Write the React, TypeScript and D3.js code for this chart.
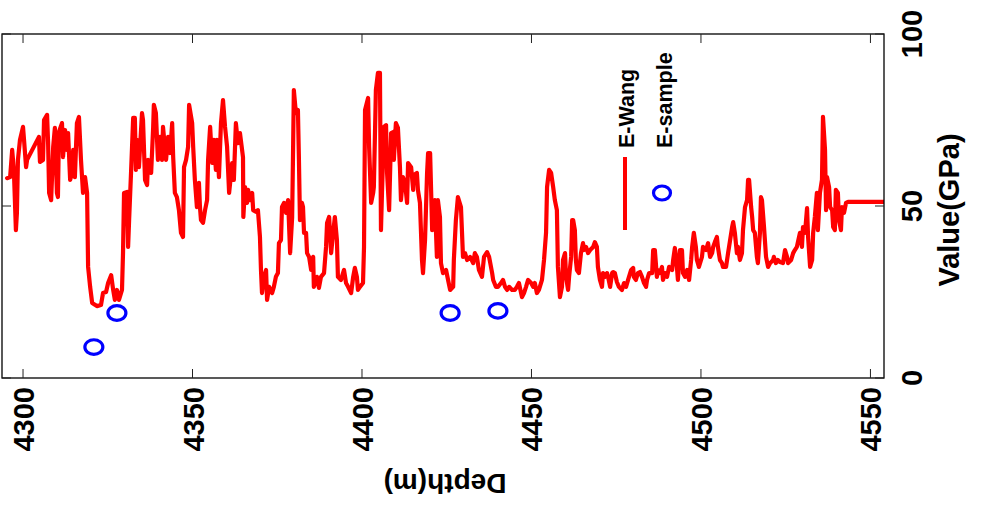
import React from "react";
import * as d3 from "d3";

// E-Wang log: depth (m) and value (GPa)
const depth = [
  4295.3, 4296.2, 4296.8, 4297.3, 4297.9, 4298.2, 4298.5, 4299.1, 4300.0, 4300.3, 4300.9, 4301.2,
  4304.7, 4305.0, 4305.9, 4306.2, 4307.1, 4307.4, 4307.7, 4308.3, 4308.9, 4309.4, 4310.0, 4310.3,
  4310.6, 4311.5, 4311.8, 4312.4, 4313.0, 4313.3, 4313.9, 4314.5, 4314.8, 4315.3, 4315.9, 4316.5,
  4317.1, 4317.7, 4318.3, 4318.9, 4319.2, 4319.8, 4320.4, 4321.8, 4323.0, 4323.6, 4324.5, 4325.1,
  4326.0, 4326.6, 4327.1, 4327.7, 4328.3, 4329.2, 4329.5, 4329.8, 4330.7, 4331.0, 4331.3, 4331.9,
  4332.5, 4333.0, 4333.3, 4333.6, 4334.2, 4335.1, 4335.4, 4336.0, 4336.6, 4336.9, 4337.8, 4338.4,
  4338.6, 4339.2, 4339.8, 4340.4, 4341.0, 4341.3, 4342.2, 4342.8, 4343.4, 4344.0, 4344.3, 4344.8,
  4345.4, 4346.0, 4346.6, 4347.2, 4347.5, 4348.1, 4348.7, 4349.0, 4349.9, 4350.2, 4350.7, 4351.3,
  4351.9, 4352.2, 4352.5, 4353.1, 4353.7, 4354.3, 4354.6, 4355.2, 4355.8, 4356.3, 4356.9, 4357.2,
  4357.8, 4358.4, 4359.0, 4359.6, 4360.2, 4360.8, 4361.7, 4362.2, 4362.8, 4363.4, 4364.0, 4364.9,
  4365.0, 4365.5, 4366.1, 4366.4, 4367.0, 4367.6, 4367.9, 4368.7, 4369.3, 4369.9, 4370.2, 4370.5,
  4371.1, 4371.7, 4372.0, 4372.6, 4373.5, 4374.0, 4374.6, 4375.2, 4375.5, 4376.1, 4376.4, 4377.0,
  4377.6, 4378.2, 4378.8, 4379.4, 4379.7, 4379.9, 4380.5, 4381.1, 4381.4, 4381.7, 4382.3, 4382.6,
  4382.9, 4383.5, 4383.8, 4384.4, 4385.0, 4385.6, 4385.8, 4386.7, 4387.3, 4387.9, 4388.8, 4389.4,
  4389.7, 4390.3, 4390.9, 4391.5, 4392.0, 4392.6, 4392.9, 4393.8, 4394.4, 4394.7, 4395.3, 4395.9,
  4396.8, 4397.4, 4397.9, 4398.5, 4398.8, 4399.4, 4400.3, 4400.6, 4400.9, 4401.8, 4402.1, 4402.7,
  4403.3, 4403.5, 4404.1, 4404.7, 4405.3, 4405.6, 4405.9, 4406.5, 4407.1, 4407.4, 4408.0, 4408.6,
  4409.2, 4409.4, 4410.0, 4410.6, 4411.2, 4411.5, 4412.1, 4412.7, 4413.3, 4413.6, 4414.5, 4415.1,
  4415.3, 4416.2, 4416.5, 4417.1, 4417.7, 4418.0, 4418.6, 4419.2, 4419.5, 4420.1, 4420.7, 4421.0,
  4421.5, 4422.1, 4422.4, 4423.0, 4423.3, 4423.9, 4424.8, 4425.4, 4426.0, 4426.9, 4427.1, 4427.7,
  4428.3, 4429.2, 4429.8, 4430.4, 4431.0, 4431.9, 4432.8, 4433.3, 4433.9, 4434.5, 4435.4, 4436.0,
  4436.9, 4437.5, 4438.4, 4438.7, 4439.5, 4440.1, 4441.0, 4441.6, 4442.2, 4442.8, 4443.4, 4444.3,
  4445.1, 4445.7, 4446.3, 4447.2, 4447.8, 4448.4, 4449.0, 4449.9, 4450.5, 4451.0, 4451.6, 4452.2,
  4453.1, 4453.7, 4454.3, 4454.6, 4455.2, 4455.8, 4456.4, 4456.9, 4457.5, 4457.8, 4458.4, 4459.0,
  4459.3, 4459.9, 4460.2, 4460.8, 4461.1, 4461.7, 4462.0, 4462.3, 4462.8, 4463.1, 4463.4, 4464.0,
  4464.6, 4465.2, 4465.5, 4466.1, 4466.7, 4467.3, 4468.2, 4468.7, 4469.3, 4469.6, 4470.2, 4470.8,
  4471.1, 4471.7, 4472.3, 4472.6, 4473.2, 4473.8, 4474.1, 4474.6, 4475.2, 4475.8, 4476.7, 4477.3,
  4477.9, 4478.5, 4479.4, 4480.0, 4480.2, 4480.8, 4481.4, 4482.0, 4482.6, 4483.2, 4483.8, 4484.1,
  4484.7, 4485.6, 4485.9, 4486.4, 4487.0, 4487.3, 4487.9, 4488.5, 4488.8, 4489.4, 4490.0, 4490.6,
  4491.5, 4491.8, 4492.3, 4492.9, 4493.2, 4493.8, 4494.4, 4494.7, 4495.3, 4495.9, 4496.5, 4497.1,
  4497.4, 4497.9, 4498.5, 4498.8, 4499.4, 4500.3, 4500.6, 4501.5, 4502.1, 4502.7, 4503.3, 4503.6,
  4504.1, 4504.7, 4505.0, 4505.6, 4506.2, 4506.5, 4507.4, 4508.0, 4508.6, 4509.2, 4509.5, 4510.0,
  4510.6, 4510.9, 4511.5, 4512.1, 4512.4, 4513.0, 4513.6, 4513.9, 4514.2, 4514.8, 4515.1, 4515.4,
  4515.9, 4516.5, 4516.8, 4517.4, 4517.7, 4518.0, 4518.6, 4519.2, 4519.8, 4520.4, 4521.3, 4521.5,
  4522.1, 4522.7, 4523.3, 4524.2, 4524.8, 4525.4, 4525.7, 4526.6, 4527.2, 4527.7, 4528.3, 4528.6,
  4529.2, 4529.8, 4530.1, 4530.7, 4531.3, 4531.6, 4532.2, 4532.8, 4533.1, 4533.6, 4534.2, 4534.5,
  4535.1, 4535.7, 4536.0, 4536.6, 4536.9, 4537.2, 4537.8, 4538.1, 4538.7, 4539.0, 4539.5, 4539.8,
  4540.4, 4540.7, 4541.3, 4541.6, 4542.2, 4542.8, 4543.4, 4554.0,
];
const eWang = [
  58.1, 58.4, 66.3, 60.5, 43.0, 48.0, 63.4, 69.2, 73.0, 69.2, 61.3, 63.4,
  70.1, 62.8, 63.4, 75.0, 76.5, 68.3, 53.8, 51.7, 67.2, 72.7, 53.8, 52.6,
  71.5, 74.1, 64.2, 72.1, 66.3, 71.2, 57.6, 59.6, 66.3, 58.4, 74.1, 75.9,
  63.4, 53.8, 58.4, 53.8, 32.3, 26.5, 21.8, 20.9, 21.2, 24.7, 25.0, 27.6,
  29.9, 25.6, 22.7, 25.6, 22.7, 25.6, 36.3, 53.8, 54.1, 38.1, 45.9, 60.5,
  75.6, 75.6, 60.5, 69.2, 61.3, 77.0, 75.0, 57.6, 56.1, 63.4, 59.6, 73.0,
  79.4, 77.0, 63.4, 70.1, 63.4, 73.0, 63.4, 70.1, 65.4, 74.1, 64.2, 53.8,
  52.6, 48.8, 42.2, 41.0, 61.3, 63.4, 67.2, 79.4, 74.1, 67.2, 57.6, 49.7,
  56.7, 49.7, 45.9, 45.1, 48.8, 51.7, 63.4, 73.0, 62.5, 69.2, 60.5, 69.2,
  58.4, 74.1, 80.8, 73.0, 67.2, 53.8, 62.5, 57.6, 74.1, 68.3, 71.2, 64.2,
  46.8, 55.5, 50.9, 54.7, 51.7, 53.8, 48.8, 48.3, 48.8, 41.0, 31.4, 24.7,
  29.4, 31.4, 22.7, 26.5, 24.7, 26.5, 29.4, 30.5, 39.2, 40.1, 49.7, 50.9,
  48.0, 51.7, 36.3, 46.8, 68.3, 83.7, 77.0, 77.9, 63.4, 45.9, 50.9, 49.7,
  42.2, 42.2, 36.3, 35.2, 31.4, 35.2, 26.5, 29.4, 26.2, 29.4, 30.5, 38.1,
  45.1, 46.8, 36.3, 42.2, 46.8, 40.1, 29.4, 28.5, 30.5, 31.4, 27.6, 26.5,
  24.7, 29.4, 32.0, 29.4, 25.6, 26.5, 27.6, 38.1, 77.9, 81.4, 67.2, 50.9,
  53.8, 55.5, 83.7, 88.7, 88.7, 43.0, 53.8, 73.0, 73.5, 59.6, 48.8, 71.2,
  71.5, 63.4, 74.1, 72.7, 61.3, 51.7, 58.4, 56.7, 50.9, 62.5, 61.3, 54.7,
  59.0, 59.6, 54.7, 50.9, 34.3, 30.5, 40.1, 59.6, 65.4, 65.4, 43.0, 50.9,
  51.7, 35.2, 51.7, 46.8, 33.4, 30.5, 31.4, 28.5, 25.6, 26.5, 34.3, 45.9,
  52.6, 49.7, 35.2, 36.3, 34.3, 35.2, 33.4, 36.3, 35.2, 31.4, 29.4, 35.2,
  36.6, 35.2, 30.5, 28.5, 26.5, 26.5, 27.6, 28.5, 26.5, 25.6, 26.5, 25.6,
  25.6, 26.5, 27.6, 23.5, 24.7, 26.5, 28.5, 27.6, 26.5, 27.6, 24.7, 25.6,
  28.5, 34.3, 42.2, 55.5, 60.5, 59.6, 55.5, 51.7, 48.8, 32.3, 23.5, 26.5,
  34.3, 36.3, 29.4, 25.6, 29.4, 35.2, 45.9, 45.9, 43.0, 34.3, 31.4, 30.5,
  36.3, 39.2, 37.2, 38.1, 36.3, 37.2, 38.1, 39.5, 38.1, 32.3, 28.5, 26.5,
  30.5, 29.4, 30.5, 29.4, 26.5, 30.5, 30.8, 30.5, 27.9, 26.5, 25.6, 27.6,
  26.5, 28.5, 31.4, 32.0, 29.4, 28.5, 30.5, 30.8, 29.4, 27.6, 26.5, 28.5,
  30.5, 30.5, 37.2, 37.2, 29.4, 31.4, 30.5, 32.3, 28.5, 30.5, 29.4, 32.3,
  31.4, 34.3, 37.8, 32.3, 28.5, 37.2, 37.2, 30.5, 29.4, 31.4, 28.5, 34.3,
  38.1, 42.2, 38.1, 34.3, 32.3, 35.2, 38.1, 37.2, 39.2, 35.2, 36.3, 38.1,
  39.5, 41.0, 38.1, 34.3, 33.4, 32.3, 32.3, 36.3, 40.1, 43.9, 45.3, 42.2,
  36.3, 38.1, 34.3, 36.3, 43.0, 49.7, 51.7, 57.6, 57.6, 49.7, 46.8, 43.0,
  42.2, 35.2, 33.4, 42.2, 52.6, 51.7, 43.9, 35.2, 32.3, 33.4, 34.3, 35.2,
  33.4, 34.3, 33.7, 33.4, 37.2, 35.2, 33.4, 34.3, 36.3, 37.2, 38.1, 39.5,
  42.2, 38.1, 43.9, 42.2, 49.4, 41.0, 32.3, 34.3, 42.2, 46.8, 53.8, 43.0,
  53.8, 57.6, 75.9, 66.3, 48.8, 58.4, 55.5, 49.7, 48.8, 43.9, 43.0, 54.7,
  53.8, 45.9, 43.0, 49.7, 48.0, 50.9, 51.2, 51.2,
];

// E-sample core measurements
const sampleDepth = [4320.9, 4327.7, 4426.0, 4440.1];
const sampleValue = [9.0, 18.9, 18.9, 19.5];

const xTicks = [4300, 4350, 4400, 4450, 4500, 4550];
const yTicks = [0, 50, 100];
const legendLabels = ["E-Wang", "E-sample"];
const xDomain = [4293.8, 4554.0];
const yDomain = [0, 100];

const FONT = "'Liberation Sans', Arial, Helvetica, sans-serif";

export default function App() {
  const L = 2, R = 884, T = 34, B = 378;
  const x = d3.scaleLinear().domain(xDomain).range([L, R]);
  const y = d3.scaleLinear().domain(yDomain).range([B, T]);
  const pts = depth.map((d, i) => [d, eWang[i]] as [number, number]);
  const line = d3
    .line<[number, number]>()
    .x((d) => x(d[0]))
    .y((d) => y(d[1]));
  const tickLen = 9;

  return (
    <svg
      width={1000}
      height={506}
      style={{ position: "absolute", left: 0, top: 0, background: "#fff" }}
      fontFamily={FONT}
    >
      <rect x={0} y={0} width={1000} height={506} fill="#fff" />
      <defs>
        <clipPath id="plotclip">
          <rect x={L} y={T} width={R - L} height={B - T} />
        </clipPath>
      </defs>
      {/* data line */}
      <path
        d={line(pts) || ""}
        fill="none"
        stroke="#ff0000"
        strokeWidth={4.2}
        strokeLinejoin="round"
        strokeLinecap="round"
        clipPath="url(#plotclip)"
      />
      {/* sample markers */}
      {sampleDepth.map((d, i) => (
        <ellipse
          key={i}
          cx={x(d)}
          cy={y(sampleValue[i])}
          rx={9}
          ry={7.3}
          fill="none"
          stroke="#0000ff"
          strokeWidth={3.2}
        />
      ))}
      {/* axes box */}
      <rect x={L} y={T} width={R - L} height={B - T} fill="none" stroke="#000" strokeWidth={1.3} />
      {/* x ticks */}
      {xTicks.map((t) => (
        <g key={t}>
          <line x1={x(t)} x2={x(t)} y1={T} y2={T + tickLen} stroke="#222" strokeWidth={1} />
          <line x1={x(t)} x2={x(t)} y1={B} y2={B - tickLen} stroke="#222" strokeWidth={1} />
          <text
            transform={`translate(${x(t) + 11},387) rotate(-90)`}
            textAnchor="end"
            fontSize={29}
            fontWeight="bold"
            fill="#000"
          >
            {t}
          </text>
        </g>
      ))}
      {/* y ticks */}
      {yTicks.map((t) => (
        <g key={t}>
          <line x1={R} x2={R - tickLen} y1={y(t)} y2={y(t)} stroke="#222" strokeWidth={1} />
          <line x1={L} x2={L + tickLen} y1={y(t)} y2={y(t)} stroke="#222" strokeWidth={1} />
          <text
            transform={`translate(922,${y(t)}) rotate(-90)`}
            textAnchor="middle"
            fontSize={29}
            fontWeight="bold"
            fill="#000"
          >
            {t}
          </text>
        </g>
      ))}
      {/* axis titles */}
      <text
        transform="translate(959,210) rotate(-90)"
        textAnchor="middle"
        fontSize={29}
        fontWeight="bold"
        fill="#000"
      >
        Value(GPa)
      </text>
      <text
        transform="translate(445,474) rotate(180)"
        textAnchor="middle"
        fontSize={28}
        fontWeight="bold"
        fill="#000"
      >
        Depth(m)
      </text>
      {/* legend */}
      <line x1={625} x2={625} y1={157} y2={230} stroke="#ff0000" strokeWidth={4} />
      <ellipse cx={662} cy={193} rx={8.5} ry={7} fill="none" stroke="#0000ff" strokeWidth={3.2} />
      <text
        transform="translate(634,148) rotate(-90)"
        textAnchor="start"
        fontSize={21.5}
        fontWeight="bold"
        fill="#000"
      >
        {legendLabels[0]}
      </text>
      <text
        transform="translate(672,148) rotate(-90)"
        textAnchor="start"
        fontSize={21.5}
        fontWeight="bold"
        fill="#000"
      >
        {legendLabels[1]}
      </text>
    </svg>
  );
}
